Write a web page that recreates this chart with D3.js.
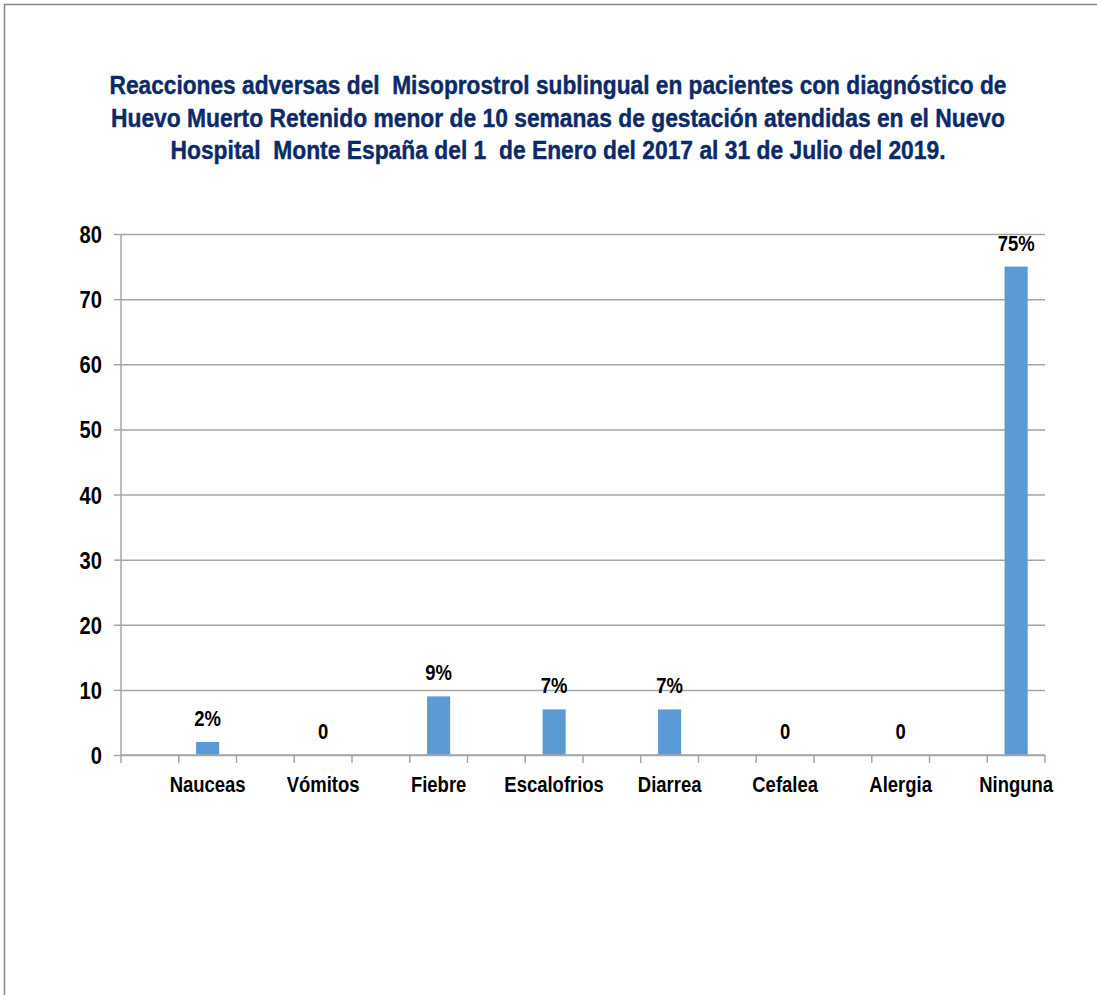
<!DOCTYPE html>
<html>
<head>
<meta charset="utf-8">
<script src="https://cdn.jsdelivr.net/npm/d3@7"></script>
<style>
  html, body { margin: 0; padding: 0; background: #fff; }
  #chart { width: 1097px; height: 995px; }
</style>
</head>
<body>
<div id="chart"></div>
<script>
// data
const categories = ["Nauceas", "Vómitos", "Fiebre", "Escalofrios", "Diarrea", "Cefalea", "Alergia", "Ninguna"];
const values = [2, 0, 9, 7, 7, 0, 0, 75];
const valueLabels = ["2%", "0", "9%", "7%", "7%", "0", "0", "75%"];
const yTicks = [0, 10, 20, 30, 40, 50, 60, 70, 80];
const titleLines = [
  "Reacciones adversas del  Misoprostrol sublingual en pacientes con diagnóstico de",
  "Huevo Muerto Retenido menor de 10 semanas de gestación atendidas en el Nuevo",
  "Hospital  Monte España del 1  de Enero del 2017 al 31 de Julio del 2019."
];

const font = "'Liberation Sans', Arial, sans-serif";
const squeeze = 0.84; // no narrow font installed, so squeeze the regular one

// put a bold, horizontally squeezed label at (px, py)
const narrowText = (sel, px, py, size) =>
  sel
    .attr("transform", (d, i) => `translate(${px(d, i)},${py(d, i)}) scale(${squeeze},1)`)
    .style("font-family", font)
    .style("font-weight", "bold")
    .style("font-size", size)
    .style("fill", "#000");

const drawBarChart = (container) => {
  d3.select(container).select("svg").remove();

  const width = 1097, height = 995;
  const plot = { left: 121, right: 1045, top: 234, bottom: 755 };

  const svg = d3
    .select(container)
    .append("svg")
    .attr("width", width)
    .attr("height", height);

  // outer frame (only top and left edges are visible)
  svg.append("path")
    .attr("d", `M4.5,${height} V4.5 H${width}`)
    .attr("fill", "none")
    .attr("stroke", "#888")
    .attr("stroke-width", 1.5);

  // title
  const titleWidths = [897, 894, 775];
  svg.append("g")
    .selectAll("text")
    .data(titleLines)
    .enter()
    .append("text")
    .attr("x", 558)
    .attr("y", (d, i) => 94 + i * 32.5)
    .attr("text-anchor", "middle")
    .attr("textLength", (d, i) => titleWidths[i])
    .attr("lengthAdjust", "spacingAndGlyphs")
    .style("white-space", "pre")
    .style("font-family", font)
    .style("font-weight", "bold")
    .style("font-size", "25px")
    .style("fill", "#0b2a68")
    .style("stroke", "#0b2a68")
    .style("stroke-width", 0.4)
    .text((d) => d);

  const x = d3.scaleBand().domain(categories).range([plot.left, plot.right]);
  const y = d3.scaleLinear().domain([0, 80]).range([plot.bottom, plot.top]);
  const half = x.bandwidth() / 2;
  const barWidth = half * 0.4;
  const center = (c) => x(c) + half * 1.5;

  // gridlines + y axis
  const yAxis = svg.append("g")
    .attr("transform", `translate(${plot.left},0)`)
    .call(d3.axisLeft(y).tickValues(yTicks).tickSize(7).tickPadding(12));
  yAxis.select(".domain").remove();
  yAxis.selectAll(".tick line").attr("stroke", "#a6a6a6").attr("stroke-width", 1.5);
  yAxis.selectAll(".tick")
    .append("line")
    .attr("x2", plot.right - plot.left)
    .attr("stroke", "#a6a6a6")
    .attr("stroke-width", 1.5);
  yAxis.selectAll(".tick text").remove();
  yAxis.selectAll(".tick")
    .append("text")
    .attr("text-anchor", "end")
    .call(narrowText, () => -19, () => 8.5, "24px")
    .text((d) => d);

  svg.append("line")
    .attr("x1", plot.left).attr("x2", plot.left)
    .attr("y1", plot.top).attr("y2", plot.bottom + 8)
    .attr("stroke", "#a6a6a6").attr("stroke-width", 1.5);

  // bars
  svg.append("g")
    .selectAll("rect")
    .data(values)
    .enter()
    .append("rect")
    .attr("x", (d, i) => center(categories[i]) - barWidth / 2)
    .attr("y", (d) => y(d))
    .attr("width", barWidth)
    .attr("height", (d) => y(0) - y(d))
    .attr("fill", "#5b9bd5");

  // x axis with ticks at every half band
  const xAxis = svg.append("g").attr("transform", `translate(0,${plot.bottom})`);
  xAxis.append("line")
    .attr("x1", plot.left).attr("x2", plot.right)
    .attr("stroke", "#a6a6a6").attr("stroke-width", 1.5);
  const tickPos = categories.flatMap((c) => [x(c) + half, x(c) + 2 * half]);
  xAxis.selectAll(".xt")
    .data(tickPos)
    .enter()
    .append("line")
    .attr("x1", (d) => d).attr("x2", (d) => d)
    .attr("y1", 0).attr("y2", 8)
    .attr("stroke", "#a6a6a6").attr("stroke-width", 1.5);
  xAxis.selectAll("text")
    .data(categories)
    .enter()
    .append("text")
    .attr("text-anchor", "middle")
    .call(narrowText, (d) => center(d), () => 37, "22px")
    .text((d) => d);

  // value labels
  svg.append("g")
    .selectAll("text")
    .data(values)
    .enter()
    .append("text")
    .attr("text-anchor", "middle")
    .call(narrowText, (d, i) => center(categories[i]), (d) => y(d) - 16, "22px")
    .text((d, i) => valueLabels[i]);
};

drawBarChart(document.getElementById("chart"));
</script>
</body>
</html>
